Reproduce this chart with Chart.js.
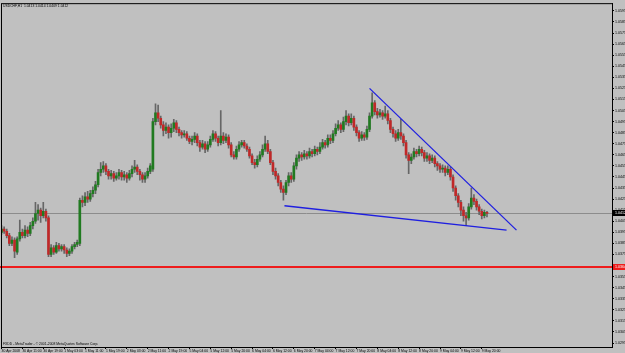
<!DOCTYPE html>
<html>
<head>
<meta charset="utf-8">
<script src="https://cdn.jsdelivr.net/npm/chart.js@4.4.0/dist/chart.umd.min.js"></script>
<style>
  html, body { margin: 0; padding: 0; background: #c0c0c0; }
  canvas { display: block; }
</style>
</head>
<body>
<canvas id="chart" width="625" height="353"></canvas>
<script>
// USDCHF H1, one value per hourly bar (bar 0 = 30 Apr 2008 03:00)
const opens = [
  1.0395,1.0398,1.0396,1.0392,1.0385,1.0388,1.0377,1.0389,1.0395,1.0392,
  1.0397,1.0394,1.0401,1.0405,1.0412,1.0415,1.0410,1.0414,1.0408,1.0375,
  1.0381,1.0377,1.0383,1.0380,1.0382,1.0379,1.0376,1.0378,1.0382,1.0384,
  1.0385,1.0424,1.0422,1.0427,1.0425,1.0430,1.0433,1.0438,1.0449,1.0452,
  1.0455,1.0450,1.0446,1.0448,1.0444,1.0446,1.0449,1.0445,1.0447,1.0444,
  1.0448,1.0452,1.0454,1.0450,1.0447,1.0443,1.0446,1.0450,1.0452,1.0495,
  1.0503,1.0498,1.0492,1.0487,1.0490,1.0485,1.0489,1.0494,1.0488,1.0485,
  1.0483,1.0484,1.0480,1.0477,1.0479,1.0482,1.0476,1.0472,1.0475,1.0470,
  1.0474,1.0479,1.0484,1.0480,1.0476,1.0482,1.0478,1.0481,1.0474,1.0465,
  1.0463,1.0470,1.0474,1.0476,1.0473,1.0470,1.0464,1.0458,1.0456,1.0461,
  1.0465,1.0470,1.0475,1.0468,1.0458,1.0450,1.0446,1.0440,1.0434,1.0431,
  1.0440,1.0446,1.0443,1.0455,1.0462,1.0465,1.0463,1.0466,1.0464,1.0468,
  1.0466,1.0470,1.0468,1.0472,1.0476,1.0474,1.0480,1.0478,1.0484,1.0489,
  1.0492,1.0488,1.0495,1.0500,1.0494,1.0498,1.0490,1.0485,1.0480,1.0483,
  1.0481,1.0488,1.0500,1.0512,1.0504,1.0501,1.0503,1.0500,1.0502,1.0496,
  1.0488,1.0484,1.0480,1.0485,1.0482,1.0476,1.0465,1.0460,1.0463,1.0468,
  1.0466,1.0470,1.0467,1.0462,1.0464,1.0460,1.0462,1.0457,1.0455,1.0452,
  1.0453,1.0449,1.0452,1.0445,1.0435,1.0428,1.0422,1.0415,1.0410,1.0408,
  1.0418,1.0426,1.0423,1.0418,1.0414,1.0410,1.0413
];
const highs = [
  1.0401,1.0400,1.0398,1.0394,1.0391,1.0390,1.0391,1.0406,1.0398,1.0401,
  1.0400,1.0404,1.0408,1.0422,1.0420,1.0417,1.0422,1.0416,1.0410,1.0384,
  1.0383,1.0386,1.0385,1.0384,1.0384,1.0381,1.0380,1.0384,1.0386,1.0388,
  1.0426,1.0428,1.0431,1.0432,1.0433,1.0436,1.0441,1.0452,1.0458,1.0459,
  1.0457,1.0452,1.0451,1.0450,1.0449,1.0452,1.0451,1.0450,1.0449,1.0451,
  1.0455,1.0460,1.0456,1.0452,1.0449,1.0449,1.0453,1.0457,1.0498,1.0511,
  1.0510,1.0500,1.0495,1.0494,1.0492,1.0493,1.0497,1.0496,1.0490,1.0487,
  1.0487,1.0486,1.0482,1.0482,1.0485,1.0484,1.0478,1.0478,1.0477,1.0477,
  1.0482,1.0487,1.0486,1.0482,1.0505,1.0485,1.0484,1.0483,1.0476,1.0468,
  1.0473,1.0477,1.0478,1.0478,1.0475,1.0472,1.0466,1.0461,1.0464,1.0468,
  1.0474,1.0482,1.0478,1.0470,1.0460,1.0453,1.0448,1.0442,1.0437,1.0442,
  1.0449,1.0449,1.0458,1.0465,1.0468,1.0467,1.0469,1.0468,1.0471,1.0470,
  1.0473,1.0472,1.0476,1.0479,1.0478,1.0483,1.0483,1.0487,1.0493,1.0496,
  1.0494,1.0499,1.0505,1.0502,1.0502,1.0500,1.0492,1.0487,1.0486,1.0485,
  1.0491,1.0503,1.0521,1.0514,1.0507,1.0506,1.0505,1.0509,1.0505,1.0498,
  1.0490,1.0487,1.0488,1.0497,1.0484,1.0478,1.0467,1.0466,1.0471,1.0470,
  1.0473,1.0472,1.0469,1.0467,1.0466,1.0465,1.0464,1.0459,1.0457,1.0456,
  1.0455,1.0455,1.0454,1.0447,1.0437,1.0430,1.0424,1.0418,1.0413,1.0421,
  1.0435,1.0429,1.0425,1.0420,1.0416,1.0415,1.0414
];
const lows = [
  1.0393,1.0394,1.0390,1.0383,1.0383,1.0372,1.0375,1.0387,1.0390,1.0390,
  1.0391,1.0392,1.0398,1.0403,1.0406,1.0404,1.0408,1.0405,1.0373,1.0373,
  1.0375,1.0376,1.0378,1.0378,1.0376,1.0373,1.0374,1.0376,1.0380,1.0382,
  1.0383,1.0418,1.0419,1.0422,1.0423,1.0427,1.0430,1.0436,1.0446,1.0449,
  1.0447,1.0443,1.0443,1.0441,1.0442,1.0443,1.0442,1.0442,1.0440,1.0442,
  1.0445,1.0449,1.0447,1.0442,1.0440,1.0440,1.0444,1.0448,1.0450,1.0492,
  1.0495,1.0489,1.0482,1.0484,1.0480,1.0481,1.0486,1.0485,1.0482,1.0480,
  1.0481,1.0478,1.0475,1.0474,1.0476,1.0473,1.0468,1.0470,1.0467,1.0468,
  1.0472,1.0477,1.0477,1.0473,1.0474,1.0475,1.0476,1.0471,1.0463,1.0461,
  1.0461,1.0468,1.0472,1.0471,1.0468,1.0462,1.0456,1.0453,1.0454,1.0459,
  1.0463,1.0468,1.0466,1.0456,1.0447,1.0443,1.0437,1.0431,1.0424,1.0429,
  1.0437,1.0440,1.0441,1.0452,1.0459,1.0460,1.0461,1.0461,1.0462,1.0463,
  1.0464,1.0465,1.0466,1.0470,1.0471,1.0472,1.0475,1.0476,1.0482,1.0487,
  1.0485,1.0486,1.0492,1.0491,1.0492,1.0487,1.0482,1.0477,1.0478,1.0478,
  1.0479,1.0486,1.0498,1.0501,1.0498,1.0499,1.0497,1.0498,1.0493,1.0485,
  1.0481,1.0477,1.0478,1.0479,1.0473,1.0462,1.0448,1.0457,1.0461,1.0463,
  1.0464,1.0464,1.0459,1.0459,1.0457,1.0458,1.0454,1.0451,1.0449,1.0449,
  1.0446,1.0447,1.0442,1.0432,1.0424,1.0418,1.0410,1.0405,1.0401,1.0406,
  1.0416,1.0420,1.0415,1.0411,1.0407,1.0408,1.0409
];
const closes = [
  1.0398,1.0396,1.0392,1.0385,1.0388,1.0378,1.0389,1.0395,1.0392,1.0397,
  1.0394,1.0401,1.0405,1.0412,1.0415,1.0410,1.0414,1.0408,1.0375,1.0381,
  1.0377,1.0383,1.0380,1.0382,1.0379,1.0376,1.0378,1.0382,1.0384,1.0386,
  1.0424,1.0422,1.0427,1.0425,1.0430,1.0433,1.0438,1.0449,1.0452,1.0455,
  1.0450,1.0446,1.0448,1.0444,1.0446,1.0449,1.0445,1.0447,1.0444,1.0448,
  1.0452,1.0454,1.0450,1.0447,1.0443,1.0446,1.0450,1.0455,1.0495,1.0503,
  1.0498,1.0492,1.0487,1.0490,1.0485,1.0489,1.0494,1.0488,1.0485,1.0483,
  1.0484,1.0480,1.0477,1.0479,1.0482,1.0476,1.0472,1.0475,1.0470,1.0474,
  1.0479,1.0484,1.0480,1.0476,1.0482,1.0478,1.0481,1.0474,1.0465,1.0463,
  1.0470,1.0474,1.0476,1.0473,1.0470,1.0464,1.0458,1.0456,1.0461,1.0465,
  1.0470,1.0475,1.0468,1.0458,1.0450,1.0446,1.0440,1.0434,1.0431,1.0440,
  1.0446,1.0443,1.0455,1.0462,1.0465,1.0463,1.0466,1.0464,1.0468,1.0466,
  1.0470,1.0468,1.0472,1.0476,1.0474,1.0480,1.0478,1.0484,1.0489,1.0492,
  1.0488,1.0495,1.0500,1.0494,1.0498,1.0490,1.0485,1.0480,1.0483,1.0481,
  1.0488,1.0500,1.0512,1.0504,1.0501,1.0503,1.0500,1.0502,1.0496,1.0488,
  1.0484,1.0480,1.0485,1.0482,1.0476,1.0465,1.0460,1.0463,1.0468,1.0466,
  1.0470,1.0467,1.0462,1.0464,1.0460,1.0462,1.0457,1.0455,1.0452,1.0453,
  1.0449,1.0452,1.0445,1.0435,1.0428,1.0422,1.0415,1.0410,1.0408,1.0418,
  1.0426,1.0423,1.0418,1.0414,1.0410,1.0413,1.0412
];

// time labels, one every 8 bars
const timeLabels = [
  "30 Apr 2008", "30 Apr 11:00", "30 Apr 19:00", "1 May 03:00", "1 May 11:00",
  "1 May 19:00", "2 May 03:00", "2 May 11:00", "2 May 19:00", "5 May 04:00",
  "5 May 12:00", "5 May 20:00", "6 May 04:00", "6 May 12:00", "6 May 20:00",
  "7 May 04:00", "7 May 12:00", "7 May 20:00", "8 May 04:00", "8 May 12:00",
  "8 May 20:00", "9 May 04:00", "9 May 12:00", "9 May 20:00"
];
const priceTicks = [
  1.0595, 1.0585, 1.0575, 1.0565, 1.0555, 1.0545, 1.0535, 1.0525, 1.0515, 1.0505,
  1.0495, 1.0485, 1.0475, 1.0465, 1.0455, 1.0445, 1.0435, 1.0425, 1.0415, 1.0405,
  1.0395, 1.0385, 1.0375, 1.0365, 1.0355, 1.0345, 1.0335, 1.0325, 1.0315, 1.0305, 1.0295
];

const bidPrice = 1.0412;
const alertPrice = 1.0364;
const upperTrend = [{ x: 141, y: 1.0525 }, { x: 197.3, y: 1.0397 }];
const lowerTrend = [{ x: 108.4, y: 1.0419 }, { x: 193.5, y: 1.0397 }];

const titleText = "USDCHF,H1  1.0413 1.0414 1.0409 1.0412";
const footerText = "FXDD - MetaTrader - \u00a9 2001-2008 MetaQuotes Software Corp.";

const FONT = '"Liberation Sans", Arial, sans-serif';
const UP = "#207a20";
const DOWN = "#c02828";

const wickData = highs.map((h, i) => ({ x: i, y: [lows[i], h] }));
const bodyData = opens.map((o, i) => ({ x: i, y: [o, closes[i]] }));

// background, price lines, frame and texts
const terminal = {
  id: "terminal",
  beforeDraw(chart) {
    const ctx = chart.ctx;
    ctx.save();
    ctx.fillStyle = "#c0c0c0";
    ctx.fillRect(0, 0, chart.width, chart.height);
    ctx.restore();
  },
  beforeDatasetsDraw(chart) {
    const { ctx, chartArea: a, scales: { y } } = chart;
    ctx.save();
    let py = Math.round(y.getPixelForValue(bidPrice)) + 0.5;
    ctx.strokeStyle = "#8c8c8c";
    ctx.lineWidth = 1;
    ctx.beginPath();
    ctx.moveTo(a.left, py);
    ctx.lineTo(a.right, py);
    ctx.stroke();
    py = Math.round(y.getPixelForValue(alertPrice));
    ctx.strokeStyle = "#ee1c1c";
    ctx.lineWidth = 2;
    ctx.beginPath();
    ctx.moveTo(0, py);
    ctx.lineTo(a.right, py);
    ctx.stroke();
    ctx.restore();
  },
  afterDraw(chart) {
    const { ctx, chartArea: a, scales: { y } } = chart;
    ctx.save();
    ctx.strokeStyle = "#000";
    ctx.lineWidth = 1;
    ctx.strokeRect(a.left + 0.5, a.top + 0.5, a.right - a.left, a.bottom - a.top);

    ctx.fillStyle = "#000";
    ctx.textBaseline = "middle";
    ctx.font = "3.4px " + FONT;
    ctx.fillText(titleText, a.left + 2, a.top + 3);
    ctx.fillText(footerText, a.left + 2, a.bottom - 3);

    // price markers on the axis
    const mark = (price, bg, fg) => {
      const py = Math.round(y.getPixelForValue(price));
      ctx.fillStyle = bg;
      ctx.fillRect(a.right + 1, py - 3, chart.width - a.right, 6);
      ctx.fillStyle = fg;
      ctx.font = "3.6px " + FONT;
      ctx.fillText(price.toFixed(4), a.right + 3, py);
    };
    mark(bidPrice, "#000", "#fff");
    mark(alertPrice, "#ee1c1c", "#fff");
    ctx.restore();
  }
};

new Chart(document.getElementById("chart"), {
  type: "bar",
  data: {
    datasets: [
      {
        data: bodyData,
        backgroundColor: (c) => closes[c.dataIndex] >= opens[c.dataIndex] ? UP : DOWN,
        barThickness: 2,
        grouped: false,
        order: 1
      },
      {
        data: wickData,
        backgroundColor: "#666666",
        barThickness: 1,
        grouped: false,
        order: 2
      },
      {
        type: "line",
        data: upperTrend,
        borderColor: "#1f1fe0",
        borderWidth: 1.3,
        pointRadius: 0,
        order: 0
      },
      {
        type: "line",
        data: lowerTrend,
        borderColor: "#1f1fe0",
        borderWidth: 1.3,
        pointRadius: 0,
        order: 0
      }
    ]
  },
  options: {
    responsive: false,
    animation: false,
    devicePixelRatio: 1,
    layout: { padding: { left: 1, top: 1, right: 0, bottom: 0 } },
    plugins: {
      legend: { display: false },
      tooltip: { enabled: false }
    },
    scales: {
      x: {
        type: "linear",
        min: -0.2,
        max: 233.9,
        offset: false,
        afterBuildTicks: (s) => { s.ticks = timeLabels.map((_, k) => ({ value: k * 8 })); },
        afterFit: (s) => { s.height = 6; },
        grid: { drawOnChartArea: false, offset: false, tickLength: 2, color: "#000" },
        border: { display: true, color: "#000" },
        ticks: {
          autoSkip: false,
          maxRotation: 0,
          align: "start",
          padding: 0,
          color: "#000",
          font: { size: 3.4, family: FONT },
          callback: (v) => timeLabels[Math.round(v / 8)] || ""
        }
      },
      y: {
        position: "right",
        min: 1.02914,
        max: 1.06020,
        afterBuildTicks: (s) => { s.ticks = priceTicks.map((v) => ({ value: v })); },
        afterFit: (s) => { s.width = 13; },
        grid: { drawOnChartArea: false, tickLength: 2, color: "#000" },
        border: { display: true, color: "#000" },
        ticks: {
          padding: 1,
          color: "#000",
          font: { size: 3.6, family: FONT },
          callback: (v) => v.toFixed(4)
        }
      }
    }
  },
  plugins: [terminal]
});
</script>
</body>
</html>
